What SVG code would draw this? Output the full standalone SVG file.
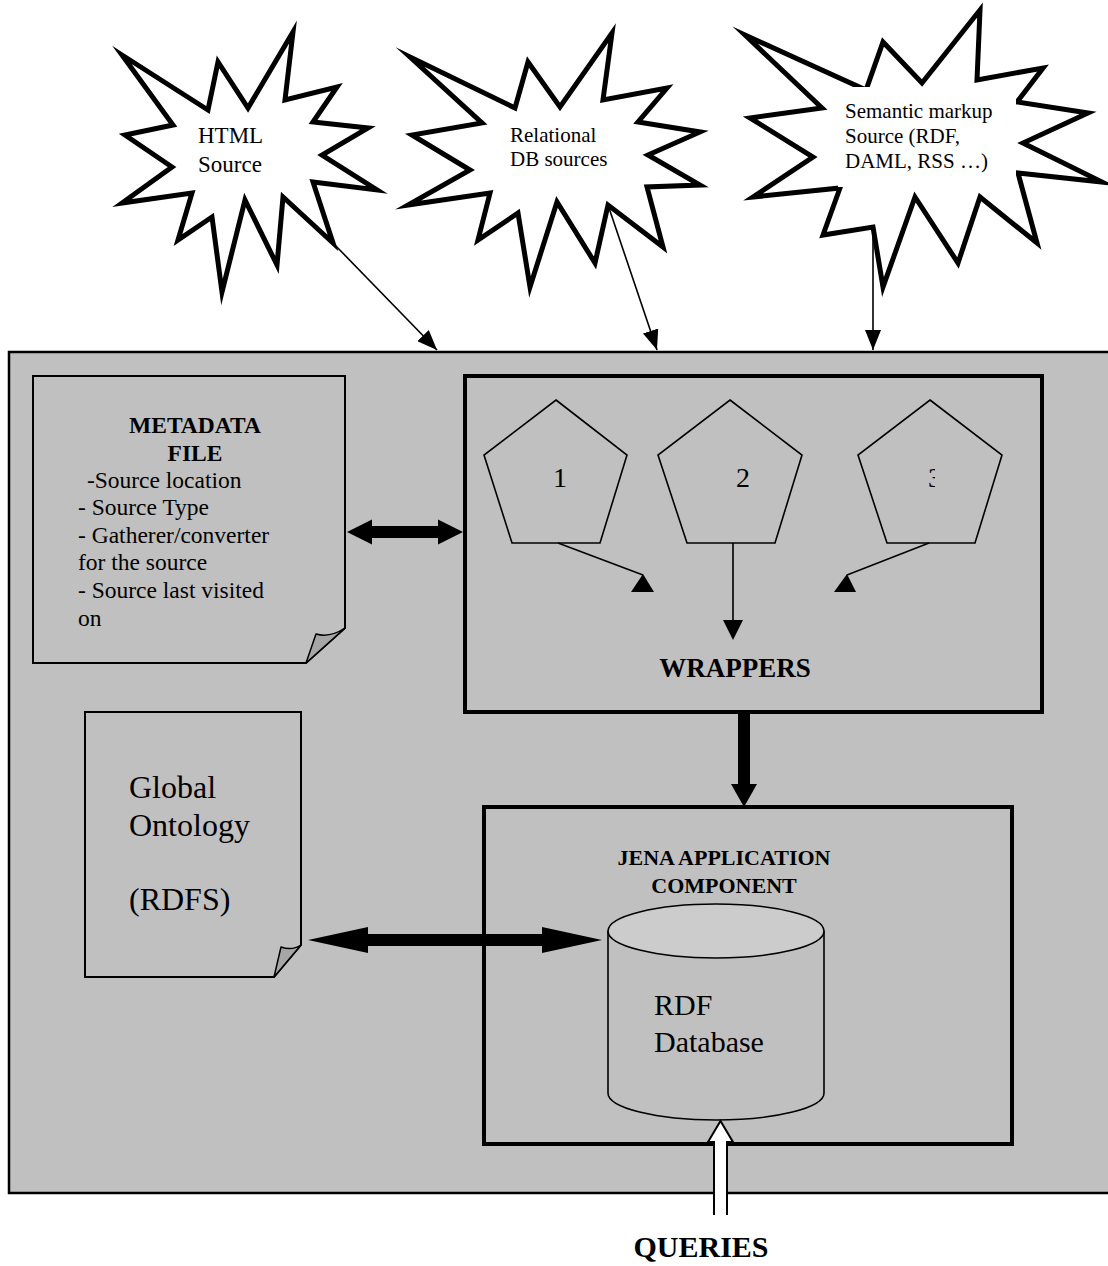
<svg xmlns="http://www.w3.org/2000/svg" width="1108" height="1266" viewBox="0 0 1108 1266">
<style>
text{font-family:"Liberation Serif","Times New Roman",serif;fill:#000}
.b{font-weight:bold}
.burst{fill:#fff;stroke:#000;stroke-width:5;stroke-linejoin:miter;stroke-miterlimit:20}
.doc{fill:#c0c0c0;stroke:#000;stroke-width:2}
.fold{fill:#a6a6a6;stroke:#000;stroke-width:1.5;stroke-linejoin:round}
.box{fill:#c0c0c0;stroke:#000;stroke-width:4}
.pent{fill:none;stroke:#000;stroke-width:1.6}
.thin{stroke:#000;stroke-width:1.6;fill:none}
.solid{fill:#000;stroke:none}
</style>
<defs>
<marker id="ah" markerUnits="userSpaceOnUse" viewBox="0 0 20 16" markerWidth="20" markerHeight="16" refX="20" refY="8" orient="auto">
<path d="M0,0 L20,8 L0,16 z" fill="#000"/>
</marker>
<clipPath id="clip3"><rect x="900" y="455" width="35" height="45"/></clipPath>
</defs>

<rect width="1108" height="1266" fill="#fff"/>

<g id="system-boundary">
<rect x="9" y="352" width="1120" height="841" fill="#c0c0c0" stroke="#000" stroke-width="2.5"/>
</g>

<g id="html-source">
<polygon class="burst" points="122,55 208,110 218,62 248,108 293,32 285,100 337,87 313,122 368,128 322,155 377,190 313,182 333,243 283,197 277,265 245,200 222,292 212,217 178,240 192,193 122,203 172,167 125,135 173,125"/>
<text x="198" y="143" font-size="23">HTML</text>
<text x="198" y="172" font-size="23">Source</text>
</g>

<g id="relational-source">
<polygon class="burst" points="410,57 515,108 528,62 560,107 612,33 603,100 667,88 638,122 700,132 648,155 700,185 647,187 663,247 608,205 595,263 557,202 530,287 518,213 478,240 490,193 408,205 470,170 412,135 482,123"/>
<text x="510" y="142" font-size="21">Relational</text>
<text x="510" y="166" font-size="21">DB sources</text>
</g>

<g id="semantic-source">
<polygon class="burst" points="745,35 866,90 883,42 922,83 980,10 977,80 1043,68 1017,102 1088,113 1023,143 1102,182 1018,173 1037,243 980,197 958,263 915,197 883,287 873,227 823,235 840,188 753,197 813,157 750,118 822,108"/>
<rect x="838" y="87" width="178" height="100" fill="#fff"/>
<text x="845" y="118" font-size="21">Semantic markup</text>
<text x="845" y="143" font-size="21">Source (RDF,</text>
<text x="845" y="168" font-size="21">DAML, RSS …)</text>
</g>

<g id="metadata-file">
<path class="doc" d="M33,376 H345 V628 L306,663 H33 Z"/>
<path class="fold" d="M306,663 L316,634 Q330,638 345,628 Z"/>
<text x="195" y="433" font-size="23.5" class="b" text-anchor="middle">METADATA</text>
<text x="195" y="461" font-size="23.5" class="b" text-anchor="middle">FILE</text>
<text x="81" y="488" font-size="23.5" xml:space="preserve"> -Source location</text>
<text x="78" y="515" font-size="23.5">- Source Type</text>
<text x="78" y="543" font-size="23.5">- Gatherer/converter</text>
<text x="78" y="570" font-size="23.5">for the source</text>
<text x="78" y="598" font-size="23.5">- Source last visited</text>
<text x="78" y="626" font-size="23.5">on</text>
</g>

<g id="wrappers">
<rect class="box" x="465" y="376" width="577" height="336"/>
<g id="wrapper-1">
<polygon class="pent" points="556,400 627,455 600,543 512,543 484,455"/>
<text x="560" y="487" font-size="28" text-anchor="middle">1</text>
</g>
<g id="wrapper-2">
<polygon class="pent" points="730,400 802,455 775,543 687,543 658,455"/>
<text x="743" y="487" font-size="28" text-anchor="middle">2</text>
</g>
<g id="wrapper-3">
<polygon class="pent" points="930,400 1002,455 975,543 887,543 858,455"/>
<text x="935" y="487" font-size="28" text-anchor="middle" clip-path="url(#clip3)">3</text>
</g>
<text x="735" y="677" font-size="27" class="b" text-anchor="middle">WRAPPERS</text>
</g>

<g id="global-ontology">
<path class="doc" d="M85,712 H301 V945 L274,977 H85 Z"/>
<path class="fold" d="M274,977 L281,947 Q292,951 301,945 Z"/>
<text x="129" y="798" font-size="32">Global</text>
<text x="129" y="836" font-size="32">Ontology</text>
<text x="129" y="910" font-size="32">(RDFS)</text>
</g>

<g id="jena-component">
<rect class="box" x="484" y="807" width="528" height="337"/>
<text x="724" y="865" font-size="22" class="b" text-anchor="middle">JENA APPLICATION</text>
<text x="724" y="893" font-size="22" class="b" text-anchor="middle">COMPONENT</text>
<g id="rdf-database">
<path d="M608,931 V1093 A108,27 0 0 0 824,1093 V931" fill="#c0c0c0" stroke="#000" stroke-width="1.6"/>
<ellipse cx="716" cy="931" rx="108" ry="27" fill="#cccccc" stroke="#000" stroke-width="1.6"/>
<text x="654" y="1015" font-size="30">RDF</text>
<text x="654" y="1052" font-size="30">Database</text>
</g>
</g>

<g id="queries">
<text x="701" y="1257" font-size="30" class="b" text-anchor="middle">QUERIES</text>
</g>

<g id="connectors">
<line class="thin" x1="333" y1="243" x2="437" y2="350" marker-end="url(#ah)"/>
<line class="thin" x1="608" y1="205" x2="657" y2="350" marker-end="url(#ah)"/>
<line class="thin" x1="873" y1="227" x2="873" y2="350" marker-end="url(#ah)"/>

<line class="thin" x1="558" y1="543" x2="643" y2="575"/>
<polygon class="solid" points="631,592 654,592 643,574"/>
<line class="thin" x1="733" y1="543" x2="733" y2="622"/>
<polygon class="solid" points="723,620 743,620 733,640"/>
<line class="thin" x1="929" y1="543" x2="847" y2="575"/>
<polygon class="solid" points="834,592 856,592 847,574"/>

<polygon class="solid" points="347,532 372,519.5 372,526 438,526 438,519.5 463,532 438,544.5 438,538 372,538 372,544.5"/>
<polygon class="solid" points="308,940 368,927 368,934 542,934 542,927 602,940 542,953 542,946 368,946 368,953"/>
<polygon class="solid" points="738,714 750,714 750,784 757,784 744,807 731,784 738,784"/>

<path d="M714,1215 V1142 H708 L720.5,1121 L733,1142 H727 V1215" fill="#fff" stroke="#000" stroke-width="2"/>
</g>
</svg>
